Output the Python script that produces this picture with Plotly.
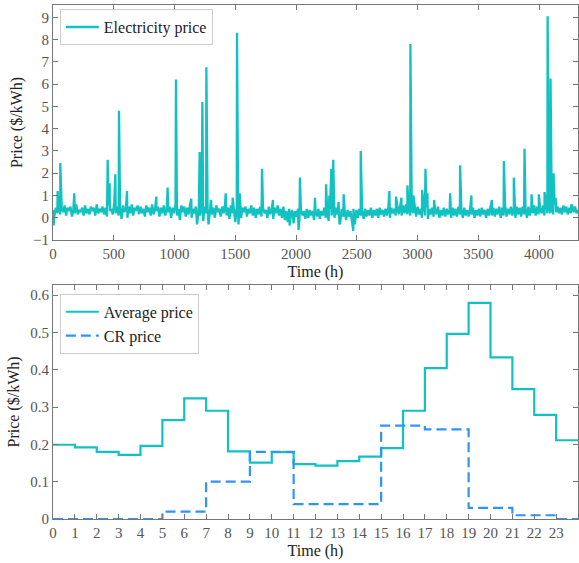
import plotly.graph_objects as go
from plotly.subplots import make_subplots

# ---------------- data: hourly electricity price (base every 12 h) ----------------
base_step_h = 12
base_prices = [
    0.35, 0.1, 0.45, 0.2, 0.5, 0.15, 0.4, 0.25, 0.55, 0.1, 0.45, 0.3, 0.5, 0.05, 0.4, 0.2, 0.6, 0.15, 0.35, 0.25,
    0.45, 0.1, 0.55, 0.2, 0.4, 0.15, 0.5, 0.3, 0.45, 0.1, 0.6, 0.2, 0.4, 0.25, 0.5, 0.15, 0.45, 0.05, 0.55, 0.3,
    0.4, 0.15, 0.65, 0.2, 0.5, 0.1, 0.45, -0.05, 0.55, 0.25, 0.4, 0.0, 0.5, 0.2, 0.6, 0.1, 0.45, 0.3, 0.55, 0.15,
    0.5, 0.2, 0.4, 0.05, 0.55, 0.25, 0.45, 0.1, 0.6, 0.15, 0.4, 0.3, 0.5, 0.05, 0.45, 0.2, 0.55, 0.1, 0.4, 0.25,
    0.5, 0.0, 0.45, 0.2, 0.6, 0.1, 0.4, -0.1, 0.55, 0.25, 0.5, 0.05, 0.45, 0.15, 0.6, 0.0, 0.4, 0.2, 0.5, -0.2,
    0.45, 0.1, 0.55, -0.15, 0.5, 0.2, 0.4, -0.1, 0.6, 0.15, 0.45, 0.0, 0.55, 0.25, 0.4, 0.05, 0.5, 0.2, 0.6, 0.1,
    0.45, -0.05, 0.55, 0.2, 0.4, -0.2, 0.5, 0.15, 0.6, 0.0, 0.45, 0.25, 0.5, 0.05, 0.4, 0.2, 0.55, 0.1, 0.45, 0.0,
    0.4, 0.15, 0.5, 0.05, 0.45, 0.2, 0.35, 0.0, 0.5, 0.15, 0.4, -0.05, 0.45, 0.2, 0.55, 0.1, 0.4, 0.0, 0.5, -0.1,
    0.3, -0.2, 0.4, 0.1, 0.35, -0.25, 0.3, 0.05, 0.4, -0.1, 0.35, 0.1, 0.3, -0.05, 0.4, 0.0, 0.35, 0.1, 0.3, -0.1,
    0.35, 0.05, 0.4, -0.05, 0.3, 0.1, 0.45, 0.0, 0.35, -0.15, 0.4, 0.1, 0.5, 0.0, 0.45, 0.15, 0.35, -0.2, 0.4, 0.05,
    0.3, -0.1, 0.35, 0.05, 0.3, -0.15, 0.4, -0.3, 0.35, 0.0, 0.4, 0.1, 0.3, -0.05, 0.4, 0.05, 0.35, 0.1, 0.45, 0.0,
    0.35, 0.1, 0.4, 0.0, 0.45, 0.15, 0.35, 0.05, 0.4, 0.1, 0.5, 0.0, 0.45, 0.2, 0.4, 0.1, 0.55, 0.15, 0.5, 0.1,
    0.55, 0.2, 0.6, 0.15, 0.5, 0.1, 0.45, 0.2, 0.55, 0.05, 0.5, 0.15, 0.4, 0.0, 0.55, 0.1, 0.45, -0.05, 0.4, 0.15,
    0.45, 0.05, 0.4, 0.15, 0.5, 0.0, 0.35, 0.1, 0.45, 0.05, 0.4, 0.15, 0.35, 0.0, 0.45, 0.1, 0.4, 0.05, 0.5, 0.15,
    0.4, 0.0, 0.45, 0.1, 0.35, 0.05, 0.4, 0.15, 0.45, 0.0, 0.35, 0.1, 0.4, 0.05, 0.45, 0.15, 0.35, 0.0, 0.4, 0.1,
    0.5, 0.1, 0.45, 0.05, 0.4, 0.15, 0.5, 0.0, 0.45, 0.1, 0.55, 0.05, 0.4, 0.15, 0.5, 0.1, 0.45, 0.0, 0.5, 0.15,
    0.45, 0.05, 0.5, 0.15, 0.4, 0.0, 0.5, 0.1, 0.45, 0.2, 0.55, 0.1, 0.5, 0.15, 0.45, 0.2, 0.55, 0.1, 0.6, 0.2,
    0.55, 0.2, 0.5, 0.15, 0.6, 0.25, 0.5, 0.2, 0.45, 0.15, 0.55, 0.25, 0.5, 0.15, 0.45, 0.2, 0.55, 0.25, 0.5, 0.2,
    0.35,
]
spike_hours = [5, 38, 60, 175, 450, 466, 513, 543, 609, 850, 943, 1012, 1138, 1185, 1207, 1229,
               1262, 1280, 1300, 1421, 1478, 1514, 1526, 1536, 1720, 1810, 1947, 2020, 2032, 2156,
               2247, 2274, 2290, 2306, 2350, 2358, 2392, 2471, 2532, 2768, 2823, 2867, 2916, 2941,
               2966, 3037, 3065, 3081, 3136, 3268, 3350, 3443, 3611, 3710, 3792, 3880, 3938, 3998,
               4045, 4070, 4094, 4119, 4136, 4265]
spike_prices = [-0.35, 1.2, 2.45, 1.1, 2.6, 1.55, 1.95, 4.8, 1.2, 0.95, 1.35, 6.2, 0.85, -0.3, 2.95, 5.2,
                6.75, -0.3, 0.8, 1.1, 0.9, 8.3, -0.3, 1.1, 2.2, 0.8, -0.35, -0.55, 1.8, 0.9,
                1.5, 1.0, 2.2, 2.6, 0.7, -0.3, 1.05, -0.6, 3.0, 1.2, 0.95, 0.9, 1.45, 7.8,
                1.0, 1.25, 2.2, 1.1, 0.8, 1.1, 2.35, 1.0, 0.8, 2.55, 1.8, 3.1, 1.05, 1.05,
                1.15, 9.05, 6.25, 2.0, 0.9, 0.6]

# ---------------- data: daily profile ----------------
hours = list(range(24))
hour_labels = [str(h) for h in hours]
average_price = [0.199, 0.192, 0.180, 0.172, 0.196, 0.265, 0.323, 0.290, 0.181, 0.151, 0.179, 0.147,
                 0.143, 0.155, 0.167, 0.190, 0.290, 0.404, 0.496, 0.579, 0.433, 0.348, 0.279, 0.211]
cr_price = [0, 0, 0, 0, 0, 0.02, 0.02, 0.10, 0.10, 0.18, 0.18, 0.04,
            0.04, 0.04, 0.04, 0.25, 0.25, 0.24, 0.24, 0.03, 0.03, 0.01, 0.01, 0]

# merge base and spikes
pts = [(i * base_step_h, v) for i, v in enumerate(base_prices)] + list(zip(spike_hours, spike_prices))
pts.sort(key=lambda p: p[0])
ts_x = [p[0] for p in pts]
ts_y = [p[1] for p in pts]

step_x = hours + [24]
avg_y = average_price + [average_price[-1]]
cr_y = cr_price + [cr_price[-1]]

TEAL = "#12C2C2"
BLUE = "#2F95F5"
FONT = "'Liberation Serif', 'Times New Roman', Times, 'DejaVu Serif', serif"

fig = make_subplots(rows=2, cols=1)
fig.add_trace(go.Scatter(x=ts_x, y=ts_y, mode="lines", name="Electricity price",
                         line=dict(color=TEAL, width=2.3), legend="legend"), row=1, col=1)
fig.add_trace(go.Scatter(x=step_x, y=avg_y, mode="lines", line_shape="hv", name="Average price",
                         line=dict(color=TEAL, width=2.2), legend="legend2"), row=2, col=1)
fig.add_trace(go.Scatter(x=step_x, y=cr_y, mode="lines", line_shape="hv", name="CR price",
                         line=dict(color=BLUE, width=2.2, dash="10px,5px"), legend="legend2"), row=2, col=1)

axis_common = dict(showline=True, linecolor="#777", linewidth=1, mirror="allticks",
                   ticks="inside", ticklen=5, tickcolor="#777", showgrid=False, zeroline=False,
                   automargin=False,
                   tickfont=dict(family=FONT, size=15, color="#555"))
title_font = dict(family=FONT, size=16, color="#222")

fig.update_xaxes(range=[0, 4320], tickvals=[0, 500, 1000, 1500, 2000, 2500, 3000, 3500, 4000],
                 title=dict(text="Time (h)", font=title_font, standoff=4), row=1, col=1, **axis_common)
fig.update_yaxes(range=[-1, 9.55], tickvals=list(range(-1, 10)),
                 title=dict(text="Price ($/kWh)", font=title_font, standoff=6), row=1, col=1, **axis_common)
fig.update_xaxes(range=[0, 24], tickvals=hours, ticktext=hour_labels,
                 title=dict(text="Time (h)", font=title_font, standoff=4), row=2, col=1, **axis_common)
fig.update_yaxes(range=[0, 0.627], tickvals=[0, 0.1, 0.2, 0.3, 0.4, 0.5, 0.6],
                 ticktext=["0", "0.1", "0.2", "0.3", "0.4", "0.5", "0.6"],
                 title=dict(text="Price ($/kWh)", font=title_font, standoff=6), row=2, col=1, **axis_common)

fig.update_layout(
    width=579, height=563,
    margin=dict(l=53, r=1, t=5, b=44),
    paper_bgcolor="white", plot_bgcolor="white",
    font=dict(family=FONT, color="#222"),
    xaxis=dict(domain=[0, 1]), yaxis=dict(domain=[0.5428, 1]),
    xaxis2=dict(domain=[0, 1]), yaxis2=dict(domain=[0, 0.4553]),
    legend=dict(x=0.013, y=0.992, xanchor="left", yanchor="top", bgcolor="white",
                bordercolor="#cccccc", borderwidth=1, font=dict(family=FONT, size=16, color="#222"),
                itemwidth=33),
    legend2=dict(x=0.013, y=0.438, xanchor="left", yanchor="top", bgcolor="white",
                 bordercolor="#cccccc", borderwidth=1, font=dict(family=FONT, size=16, color="#222"),
                 itemwidth=33),
    showlegend=True,
)

fig.write_html("out.html", config={"displayModeBar": False},
               post_script="document.body.style.margin='0px';document.body.style.overflow='hidden';")
